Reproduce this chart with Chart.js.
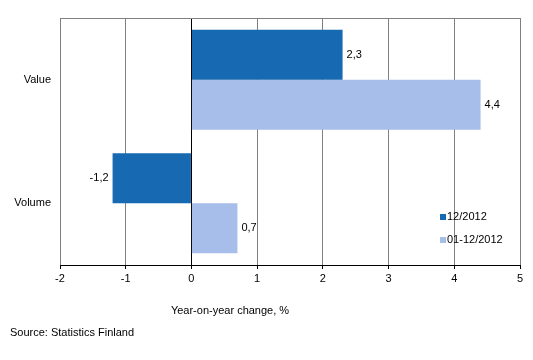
<!DOCTYPE html>
<html>
<head>
<meta charset="utf-8">
<script src="https://cdn.jsdelivr.net/npm/chart.js@4/dist/chart.umd.min.js"></script>
<style>
html,body{margin:0;padding:0;background:#fff;}
#wrap{width:533px;height:360px;position:relative;}
</style>
</head>
<body>
<div id="wrap"><canvas id="c" width="533" height="360"></canvas></div>
<script>
const categories = ["Value", "Volume"];
const seriesNames = ["12/2012", "01-12/2012"];
const series1 = [2.3, -1.2];
const series2 = [4.4, 0.7];
const xTicks = [-2, -1, 0, 1, 2, 3, 4, 5];
const axisTitle = "Year-on-year change, %";
const sourceText = "Source: Statistics Finland";

const colors = ["#1769b1", "#a7bdea"];
const FONT = "Arial, 'Liberation Sans', sans-serif";

const labelsPlugin = {
  id: 'extras',
  beforeDatasetsDraw(chart) {
    const {ctx, chartArea} = chart;
    ctx.save();
    ctx.strokeStyle = '#808080';
    ctx.lineWidth = 1;
    ctx.beginPath();
    ctx.moveTo(chartArea.left, Math.round(chartArea.top) + 0.5);
    ctx.lineTo(chartArea.right, Math.round(chartArea.top) + 0.5);
    ctx.stroke();
    ctx.restore();
  },
  afterDatasetsDraw(chart) {
    const {ctx} = chart;
    ctx.save();
    ctx.font = "11px " + FONT;
    ctx.fillStyle = '#000';
    ctx.textBaseline = 'middle';
    chart.data.datasets.forEach((ds, di) => {
      const meta = chart.getDatasetMeta(di);
      meta.data.forEach((el, i) => {
        const v = ds.data[i];
        const txt = String(v).replace('.', ',');
        if (v >= 0) {
          ctx.textAlign = 'left';
          ctx.fillText(txt, el.x + 4, el.y);
        } else {
          ctx.textAlign = 'right';
          ctx.fillText(txt, el.x - 4, el.y);
        }
      });
    });
    // legend
    const lx = 440, ly = [217, 240];
    chart.data.datasets.forEach((ds, di) => {
      ctx.fillStyle = ds.backgroundColor;
      ctx.fillRect(lx, ly[di] - 3, 6, 6);
      ctx.fillStyle = '#000';
      ctx.textAlign = 'left';
      ctx.fillText(ds.label, lx + 7, ly[di]);
    });
    // axis title & source
    ctx.textAlign = 'center';
    ctx.fillText(axisTitle, 230, 311);
    ctx.textAlign = 'left';
    ctx.fillText(sourceText, 10, 333);
    ctx.restore();
  }
};

new Chart(document.getElementById('c'), {
  type: 'bar',
  data: {
    labels: categories,
    datasets: [
      {label: seriesNames[0], data: series1, backgroundColor: colors[0], borderWidth: 0},
      {label: seriesNames[1], data: series2, backgroundColor: colors[1], borderWidth: 0}
    ]
  },
  options: {
    indexAxis: 'y',
    responsive: false,
    animation: false,
    devicePixelRatio: 1,
    layout: {padding: {left: 0, top: 18, right: 13, bottom: 0}},
    datasets: {bar: {categoryPercentage: 0.81, barPercentage: 1.0}},
    plugins: {legend: {display: false}, tooltip: {enabled: false}},
    scales: {
      x: {
        type: 'linear',
        min: xTicks[0],
        max: xTicks[xTicks.length - 1],
        afterFit(s) { s.height = 95; },
        afterBuildTicks(s) { s.ticks = xTicks.map(v => ({value: v})); },
        ticks: {
          font: {family: FONT, size: 11},
          color: '#000',
          padding: 3,
          maxRotation: 0,
          callback: v => String(v)
        },
        grid: {
          color: ctx => (ctx.tick && ctx.tick.value === 0) ? '#000' : '#808080',
          lineWidth: 1,
          drawTicks: true,
          tickLength: 4,
          tickColor: '#000'
        },
        border: {display: true, color: '#000', width: 1}
      },
      y: {
        afterFit(s) { s.width = 60; },
        ticks: {
          font: {family: FONT, size: 11},
          color: '#000',
          padding: 9
        },
        grid: {display: false, drawTicks: false},
        border: {display: false}
      }
    }
  },
  plugins: [labelsPlugin]
});
</script>
</body>
</html>
